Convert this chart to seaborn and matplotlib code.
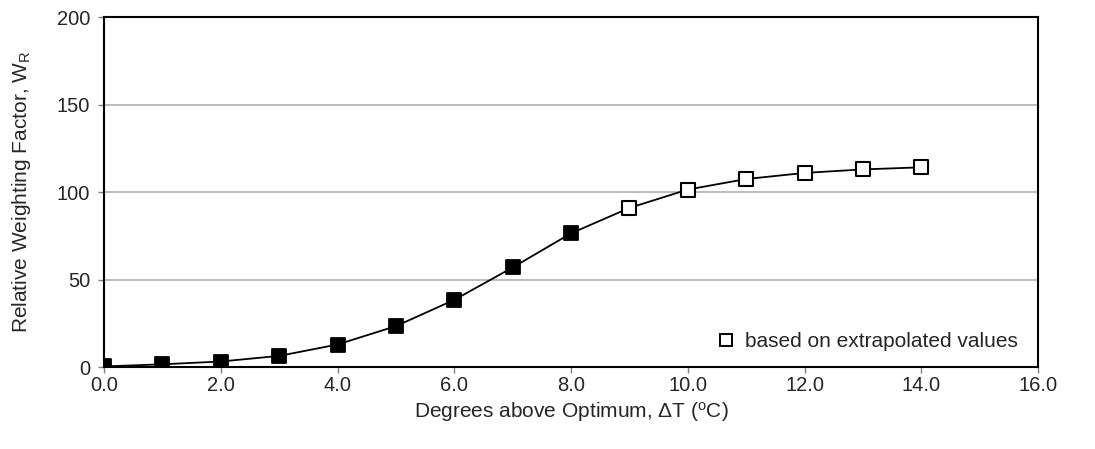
import pandas as pd
import matplotlib.pyplot as plt
import seaborn as sns
from matplotlib.lines import Line2D

# Values
delta_t = [0, 1, 2, 3, 4, 5, 6, 7, 8, 9, 10, 11, 12, 13, 14]
weight = [0.5, 1.7, 3.3, 6.5, 13.0, 23.5, 38.5, 57.0, 76.5, 91.0, 101.5, 107.5, 111.0, 113.0, 114.2]
extrapolated = [False] * 9 + [True] * 6

df = pd.DataFrame({'dt': delta_t, 'wr': weight, 'extrap': extrapolated})

sns.set_style('white')
plt.rcParams['font.family'] = ['Liberation Sans', 'DejaVu Sans']
plt.rcParams['mathtext.fontset'] = 'custom'
plt.rcParams['mathtext.rm'] = 'Liberation Sans'
plt.rcParams['mathtext.it'] = 'Liberation Sans'

fig, ax = plt.subplots(figsize=(10.95, 4.49), dpi=100)

sns.lineplot(data=df, x='dt', y='wr', color='black', lw=1.3, ax=ax, zorder=2)
sns.scatterplot(data=df[~df['extrap']], x='dt', y='wr', marker='s', s=92,
                color='black', edgecolor='black', linewidth=1.3, ax=ax, zorder=3)
sns.scatterplot(data=df[df['extrap']], x='dt', y='wr', marker='s', s=92,
                color='white', edgecolor='black', linewidth=1.5, ax=ax, zorder=3)

ax.set_xlim(0, 16)
ax.set_ylim(0, 200)
ax.set_xticks([0, 2, 4, 6, 8, 10, 12, 14, 16])
ax.set_xticklabels([f'{v:.1f}' for v in ax.get_xticks()])
ax.set_yticks([0, 50, 100, 150, 200])
ax.yaxis.grid(True, color='#b0b0b0', lw=1.2)
ax.set_axisbelow(True)

for sp in ax.spines.values():
    sp.set_color('black')
    sp.set_linewidth(1.5)

ax.tick_params(axis='both', labelsize=14.5, direction='out', length=4, width=1,
               color='#808080', bottom=True, left=True)
ax.tick_params(axis='x', pad=2)
ax.tick_params(axis='y', pad=6)
ax.set_xlabel(r'Degrees above Optimum, $\Delta$T ($^{\rm o}$C)', fontsize=15, labelpad=4)
ax.set_ylabel(r'Relative Weighting Factor, W$_{\rm R}$', fontsize=15, labelpad=17)

handle = Line2D([], [], marker='s', ls='none', markersize=9, markerfacecolor='white',
                markeredgecolor='black', markeredgewidth=1.4)
ax.legend([handle], ['based on extrapolated values'], loc='lower right', frameon=False,
          fontsize=15, handletextpad=0.3, handlelength=1.2, bbox_to_anchor=(0.998, -0.008))

plt.subplots_adjust(left=0.095, right=0.948, top=0.962, bottom=0.182)
plt.savefig('out.png', dpi=100)
plt.close()
